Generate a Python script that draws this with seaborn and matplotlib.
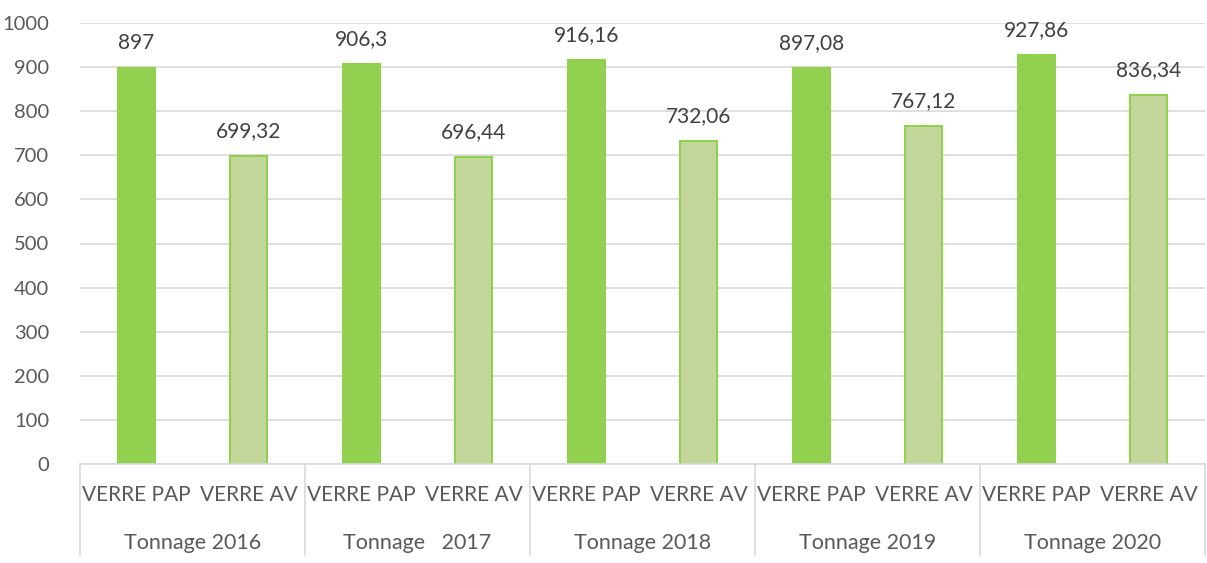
import matplotlib
matplotlib.use("Agg")
import matplotlib.pyplot as plt
import matplotlib.transforms as mtransforms
import seaborn as sns
import pandas as pd

years = ["Tonnage 2016", "Tonnage   2017", "Tonnage 2018", "Tonnage 2019", "Tonnage 2020"]
series = ["VERRE PAP", "VERRE AV"]
verre_pap = [897, 906.3, 916.16, 897.08, 927.86]
verre_av = [699.32, 696.44, 732.06, 767.12, 836.34]
pap_labels = ["897", "906,3", "916,16", "897,08", "927,86"]
av_labels = ["699,32", "696,44", "732,06", "767,12", "836,34"]

rows = []
for i, y in enumerate(years):
    rows.append({"cat": f"{i}-PAP", "serie": series[0], "val": verre_pap[i], "lab": pap_labels[i]})
    rows.append({"cat": f"{i}-AV", "serie": series[1], "val": verre_av[i], "lab": av_labels[i]})
df = pd.DataFrame(rows)

sns.set_theme(style="white")
plt.rcParams["font.family"] = ["Lato", "DejaVu Sans"]

W, H = 1207, 563
fig = plt.figure(figsize=(W / 100, H / 100), dpi=100)
ax = fig.add_axes([80 / W, 1 - 464 / H, (1205 - 80) / W, (464 - 23) / H])

ax.set_axisbelow(True)
ax.yaxis.grid(True, color="#D9D9D9", linewidth=1.2)

sns.barplot(data=df, x="cat", y="val", hue="serie", dodge=False, width=0.33,
            palette={"VERRE PAP": "#92D050", "VERRE AV": "#C4D79B"}, ax=ax,
            legend=False, saturation=1)

for patch in ax.patches:
    patch.set_edgecolor("#92D050")
    patch.set_linewidth(1.5)

ax.set_ylim(0, 1000)
ax.set_xlim(-0.5, 9.5)
ax.set_yticks(range(0, 1001, 100))
ax.tick_params(axis="y", labelsize=14.5, labelcolor="#595959", length=0, pad=22)
ax.tick_params(axis="x", labelsize=15, labelcolor="#595959", length=0, pad=15)
ax.set_xticks(range(10))
ax.set_xticklabels([series[j % 2] for j in range(10)])
ax.set_xlabel("")
ax.set_ylabel("")
for s in ["left", "right", "top"]:
    ax.spines[s].set_visible(False)
ax.spines["bottom"].set_color("#D9D9D9")
ax.spines["bottom"].set_linewidth(1.2)

# data labels
for k in range(len(df)):
    ax.text(k, df["val"][k] + 34, df["lab"][k], ha="center", va="bottom",
            fontsize=15, color="#404040")

# group labels and separators
trans = mtransforms.blended_transform_factory(ax.transData, ax.transAxes)
ybot = -(555 - 464) / (464 - 23)
for i, y in enumerate(years):
    ax.text(2 * i + 0.5, -(543 - 464) / (464 - 23), y, transform=trans,
            ha="center", va="center", fontsize=15.5, color="#595959")
for i in range(6):
    ax.plot([2 * i - 0.5, 2 * i - 0.5], [0, ybot], transform=trans,
            color="#D9D9D9", linewidth=1.2, clip_on=False)

fig.savefig("out.png", dpi=100)
